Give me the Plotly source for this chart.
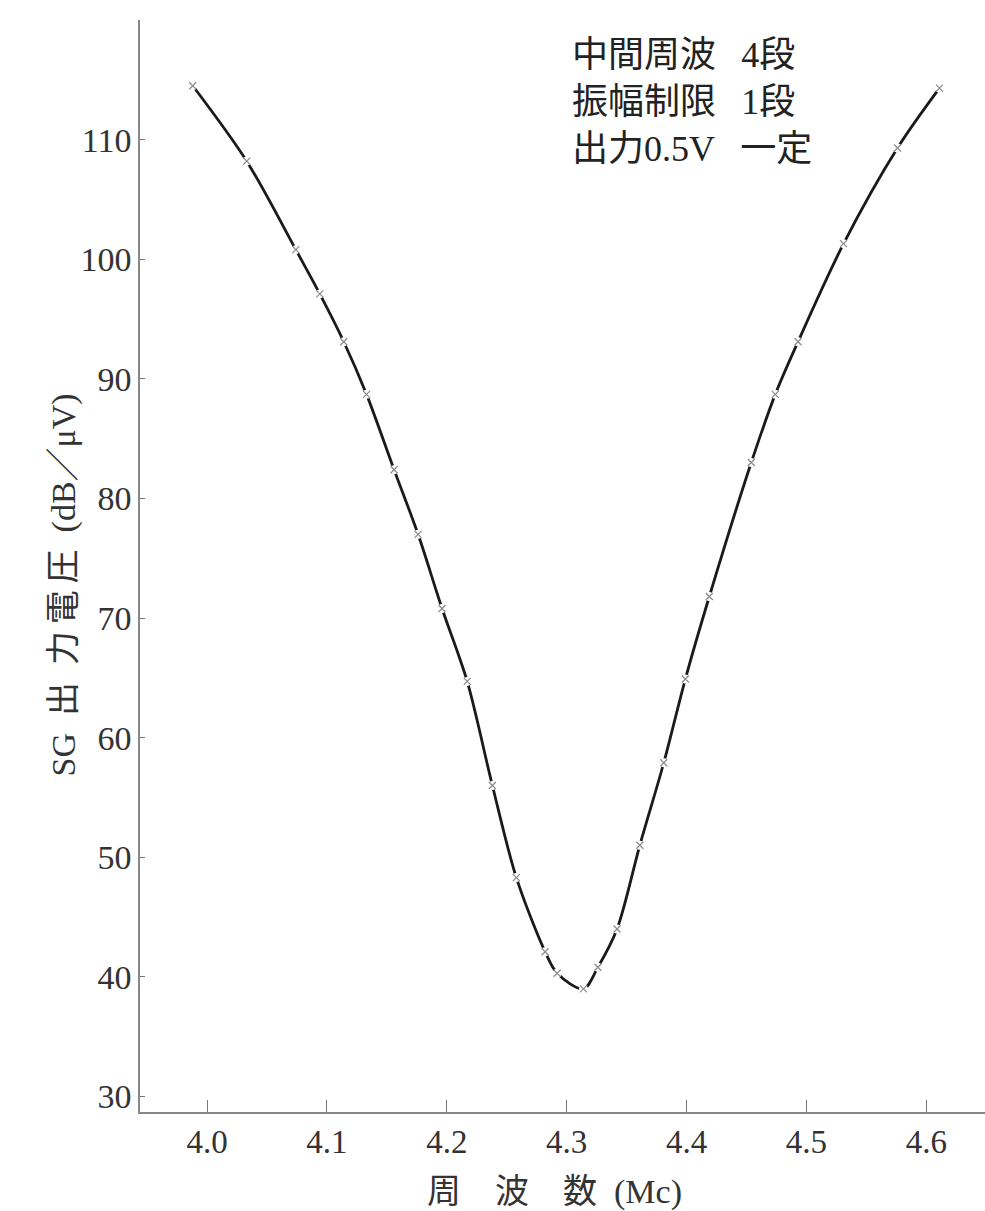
import plotly.graph_objects as go

# Measured points (frequency in Mc, SG output in dB/μV)
freq = [3.988, 4.033, 4.074, 4.094, 4.114, 4.133, 4.156, 4.176, 4.196, 4.217,
        4.238, 4.258, 4.282, 4.292, 4.314, 4.326, 4.342, 4.361, 4.381, 4.399,
        4.419, 4.454, 4.474, 4.493, 4.531, 4.576, 4.611]
level = [114.5, 108.2, 100.8, 97.1, 93.1, 88.7, 82.4, 77.0, 70.8, 64.7,
         56.0, 48.3, 42.1, 40.3, 39.0, 40.8, 44.0, 51.0, 57.9, 64.9,
         71.8, 83.0, 88.7, 93.1, 101.3, 109.3, 114.3]

x_ticks = [4.0, 4.1, 4.2, 4.3, 4.4, 4.5, 4.6]
x_tick_text = ["4.0", "4.1", "4.2", "4.3", "4.4", "4.5", "4.6"]
y_ticks = [30, 40, 50, 60, 70, 80, 90, 100, 110]
y_tick_text = ["30", "40", "50", "60", "70", "80", "90", "100", "110"]

x_title = "周\u3000波\u3000数\u2002(Mc)"
y_title = "SG\u2002出\u2002力\u2009電\u2009圧\u2002(dB／μV)"
note = "中間周波\u2002\u20094段<br>振幅制限\u2002\u20091段<br>出力0.5V\u2002\u2009一定"

FONT = "Liberation Serif, Noto Sans CJK JP, serif"

fig = go.Figure()
fig.add_trace(go.Scatter(x=freq, y=level, mode="lines",
                         line=dict(color="#1a1a1a", width=2.8, shape="spline", smoothing=0.9),
                         hoverinfo="skip", showlegend=False))
fig.add_trace(go.Scatter(x=freq, y=level, mode="markers",
                         marker=dict(symbol="circle", size=9, color="white", line=dict(width=0)),
                         hoverinfo="skip", showlegend=False))
fig.add_trace(go.Scatter(x=freq, y=level, mode="markers",
                         marker=dict(symbol="x-thin", size=7, color="#8a8a8a",
                                     line=dict(width=1.2, color="#8a8a8a")),
                         showlegend=False))

fig.update_layout(
    width=985, height=1211,
    margin=dict(l=140, r=0, t=20, b=99),
    paper_bgcolor="white", plot_bgcolor="white",
    font=dict(family=FONT, color="#2a2a2a"),
    xaxis=dict(range=[3.944, 4.649], tickvals=x_ticks, ticktext=x_tick_text,
               ticks="inside", ticklen=12, tickwidth=1.2, tickcolor="#777",
               showline=True, linecolor="#888", linewidth=1.5,
               showgrid=False, zeroline=False,
               tickfont=dict(family=FONT, size=33, color="#333")),
    yaxis=dict(range=[28.7, 120], tickvals=y_ticks, ticktext=y_tick_text,
               ticks="inside", ticklen=5, tickwidth=1.2, tickcolor="#777",
               showline=True, linecolor="#888", linewidth=1.5,
               showgrid=False, zeroline=False,
               tickfont=dict(family=FONT, size=34, color="#333")),
    annotations=[
        dict(text=x_title, xref="paper", yref="paper", x=0.491, y=-0.073,
             xanchor="center", yanchor="middle", showarrow=False,
             font=dict(family=FONT, size=34, color="#333")),
        dict(text=y_title, xref="paper", yref="paper", x=-0.09, y=0.483,
             xanchor="center", yanchor="middle", showarrow=False, textangle=-90,
             font=dict(family=FONT, size=34, color="#333")),
        dict(text=note, xref="paper", yref="paper", x=0.509, y=0.988,
             xanchor="left", yanchor="top", align="left", showarrow=False,
             font=dict(family=FONT, size=36, color="#222")),
    ],
)

fig.write_html("out.html")
